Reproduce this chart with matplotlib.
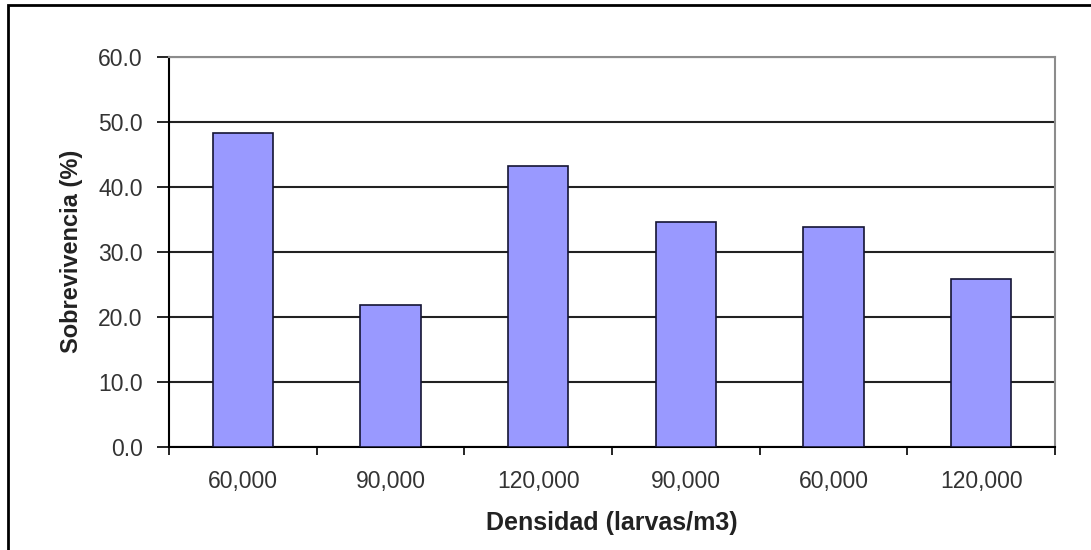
import matplotlib.pyplot as plt
from matplotlib.patches import Rectangle

plt.rcParams['font.family'] = ['Liberation Sans', 'DejaVu Sans']

categories = ["60,000", "90,000", "120,000", "90,000", "60,000", "120,000"]
survival = [48.2, 21.8, 43.1, 34.5, 33.8, 25.8]
y_ticks = [0, 10, 20, 30, 40, 50, 60]

fig = plt.figure(figsize=(10.91, 5.5), dpi=100)
ax = fig.add_axes([0.155, 0.188, 0.812, 0.709])

x = range(len(categories))
ax.bar(x, survival, width=0.41, color="#9999FF", edgecolor="#141433",
       linewidth=1.2, zorder=3)

ax.set_xlim(-0.5, len(categories) - 0.5)
ax.set_ylim(0, 60)
ax.set_yticks(y_ticks)
ax.set_yticklabels([f"{v:.1f}" for v in y_ticks])
ax.yaxis.grid(True, color="#222222", linewidth=1.5, zorder=0)
ax.set_axisbelow(True)

ax.set_xticks(list(x))
ax.set_xticklabels(categories)
ax.set_xticks([i - 0.5 for i in range(len(categories) + 1)], minor=True)
ax.tick_params(axis="x", which="major", length=0, pad=17, labelsize=16.5,
               colors="#333333")
ax.tick_params(axis="x", which="minor", length=6, width=1.2, direction="out",
               color="black")
ax.tick_params(axis="y", length=9, width=1.2, direction="out", pad=10,
               labelsize=16.5, colors="#333333")
ax.tick_params(axis="y", color="black")

for side in ["left", "bottom"]:
    ax.spines[side].set_color("black")
    ax.spines[side].set_linewidth(1.5)
for side in ["top", "right"]:
    ax.spines[side].set_color("#8c8c8c")
    ax.spines[side].set_linewidth(1.5)

ax.set_xlabel("Densidad (larvas/m3)", fontsize=18, fontweight="bold", labelpad=13,
              color="#222222")
ax.set_ylabel("Sobrevivencia (%)", fontsize=17, fontweight="bold", labelpad=11,
              color="#222222")

# outer frame (cropped on right and bottom in the original)
fig.patches.append(Rectangle((8 / 1091, -0.05), 1.2, 1 - 5 / 550 + 0.05,
                             transform=fig.transFigure, fill=False,
                             edgecolor="black", linewidth=2))

fig.savefig("out.png", dpi=100)
